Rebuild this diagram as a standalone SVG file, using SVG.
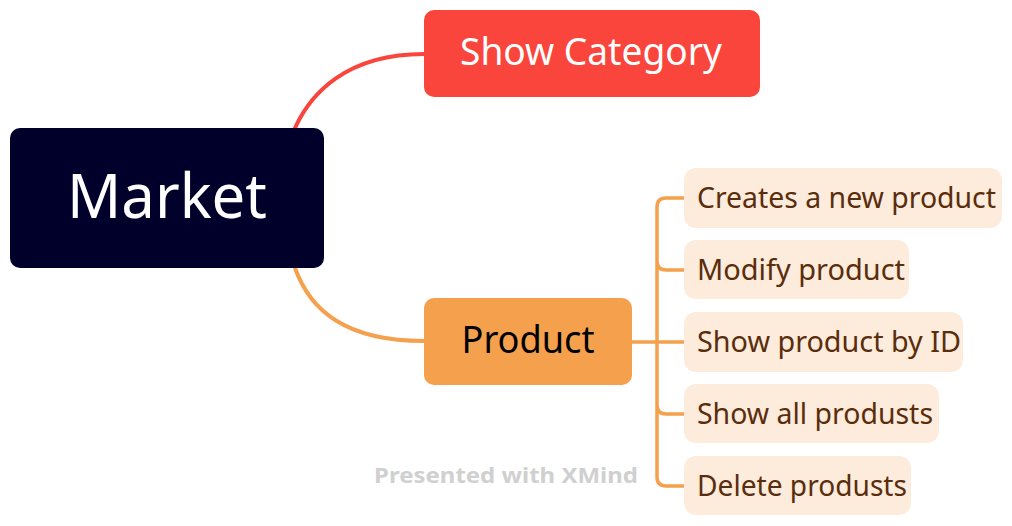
<svg xmlns="http://www.w3.org/2000/svg" width="1012" height="526" viewBox="0 0 1012 526">
<style>
text{font-family:"Noto Sans","Open Sans","DejaVu Sans",sans-serif}
.conn{fill:none;stroke-width:3.5;stroke-linecap:round}
.main{stroke-width:4}
.child rect{fill:#FDEBDC}
.child text{fill:#5A2D0C;font-size:29px}
</style>
<rect width="1012" height="526" fill="#ffffff"/>
<g id="connectors">
<path class="conn main" stroke="#FA453C" d="M295 128 C310 95 345 54 424 54"/>
<path class="conn main" stroke="#F5A04D" d="M295 268 C310 310 345 341 424 341"/>
<path class="conn" stroke="#F5A04D" d="M632 342 H684 M684 198 H666 Q657 198 657 207 V477 Q657 486 666 486 H684 M657 261 Q657 270 666 270 H684 M657 405 Q657 414 666 414 H684"/>
</g>
<g id="market">
<rect x="10" y="128" width="314" height="140" rx="10" fill="#00002A"/>
<text x="167" y="218" font-size="62" fill="#ffffff" text-anchor="middle" textLength="200" lengthAdjust="spacingAndGlyphs">Market</text>
</g>
<g id="show-category">
<rect x="424" y="10" width="336" height="87" rx="10" fill="#FA453C"/>
<text x="591" y="65" font-size="38" fill="#ffffff" text-anchor="middle" textLength="262" lengthAdjust="spacingAndGlyphs">Show Category</text>
</g>
<g id="product">
<rect x="424" y="298" width="208" height="87" rx="10" fill="#F5A04D"/>
<text x="528" y="353" font-size="38" fill="#000000" text-anchor="middle" textLength="133" lengthAdjust="spacingAndGlyphs">Product</text>
</g>
<g id="creates" class="child">
<rect x="684" y="168" width="318" height="60" rx="12"/>
<text x="697" y="208" textLength="299" lengthAdjust="spacingAndGlyphs">Creates a new product</text>
</g>
<g id="modify" class="child">
<rect x="684" y="240" width="225" height="59" rx="12"/>
<text x="697" y="280" textLength="208" lengthAdjust="spacingAndGlyphs">Modify product</text>
</g>
<g id="show-by-id" class="child">
<rect x="684" y="312" width="279" height="60" rx="12"/>
<text x="697" y="352" textLength="264" lengthAdjust="spacingAndGlyphs">Show product by ID</text>
</g>
<g id="show-all" class="child">
<rect x="684" y="384" width="255" height="59" rx="12"/>
<text x="697" y="424" textLength="236" lengthAdjust="spacingAndGlyphs">Show all produsts</text>
</g>
<g id="delete" class="child">
<rect x="684" y="456" width="227" height="59" rx="12"/>
<text x="697" y="496" textLength="210" lengthAdjust="spacingAndGlyphs">Delete produsts</text>
</g>
<text x="374" y="483" font-size="21" font-weight="bold" fill="#D0D0D0" textLength="264" lengthAdjust="spacingAndGlyphs">Presented with XMind</text>
</svg>
